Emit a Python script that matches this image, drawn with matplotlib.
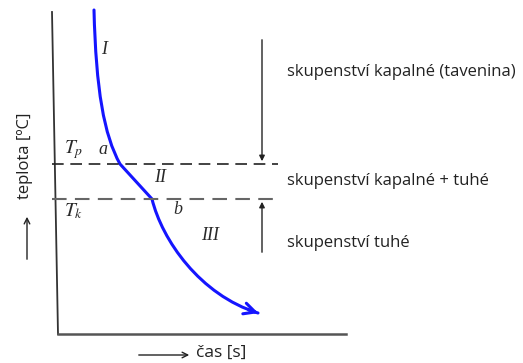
import matplotlib.pyplot as plt
from matplotlib.path import Path
from matplotlib.patches import PathPatch

plt.rcParams['mathtext.fontset'] = 'stix'

# cooling curve of a melt (schematic), drawn as Bezier pieces
# I: liquid cooling, II: crystallisation Tp -> Tk, III: solid cooling
cas_I = [94, 96, 104, 120]
teplota_I = [10, 90, 135, 164]
cas_II = [120, 152]
teplota_II = [164, 199]
cas_III = [152, 162, 200, 258]
teplota_III = [199, 240, 295, 313]

Tp = 164
Tk = 199

labels_skup = ["skupenství kapalné (tavenina)", "skupenství kapalné + tuhé", "skupenství tuhé"]
labels_y = [72, 181, 243]

fig = plt.figure(figsize=(5.23, 3.63), dpi=100)
ax = fig.add_axes([0, 0, 1, 1])
ax.set_xlim(0, 523)
ax.set_ylim(363, 0)
ax.axis('off')

# axes drawn by hand
ax.plot([52, 58], [12, 334], color='#333333', lw=1.3)
ax.plot([58, 346], [334, 334], color='#555555', lw=1.8)

# Tp and Tk levels
ax.plot([52, 278], [Tp, Tp], color='#222222', lw=1.2, dashes=(7, 4))
ax.plot([52, 278], [Tk, Tk], color='#666666', lw=1.5, dashes=(7, 4))

# curve
blue = '#1515ff'
verts = list(zip(cas_I, teplota_I)) + [(cas_II[1], teplota_II[1])] + list(zip(cas_III[1:], teplota_III[1:]))
codes = [Path.MOVETO, Path.CURVE4, Path.CURVE4, Path.CURVE4, Path.LINETO,
         Path.CURVE4, Path.CURVE4, Path.CURVE4]
ax.add_patch(PathPatch(Path(verts, codes), fill=False, edgecolor=blue, lw=2.2,
                       capstyle='round', joinstyle='round'))
ax.annotate('', xy=(cas_III[-1] + 3, teplota_III[-1] + 1), xytext=(cas_III[-1] - 12, teplota_III[-1] - 4),
            arrowprops=dict(arrowstyle='->', color=blue, lw=2.2, mutation_scale=20))

# region arrows
ax.annotate('', xy=(262, Tp), xytext=(262, 37),
            arrowprops=dict(arrowstyle='-|>', color='#222222', lw=1.0, mutation_scale=8))
ax.annotate('', xy=(262, Tk), xytext=(262, 255),
            arrowprops=dict(arrowstyle='-|>', color='#222222', lw=1.0, mutation_scale=8))

for txt, y in zip(labels_skup, labels_y):
    ax.text(287, y, txt, fontsize=12, family='Open Sans', color='#222222', va='center', ha='left')

serif = dict(family='Liberation Serif', style='italic', fontsize=13, color='#2a2a2a')
ax.text(101, 50, 'I', va='center', **serif)
ax.text(98, 150, 'a', va='center', **serif)
ax.text(64, 150, r'$T_p$', va='center', fontsize=14, color='#2a2a2a')
ax.text(64, 211, r'$T_k$', va='center', fontsize=14, color='#2a2a2a')
ax.text(154, 178, 'II', va='center', **serif)
ax.text(173, 210, 'b', va='center', **serif)
ax.text(201, 236, 'III', va='center', **serif)

# axis titles with arrows
ax.text(25, 156, 'teplota [ºC]', rotation=90, fontsize=12, family='Open Sans',
        color='#222222', ha='center', va='center')
ax.annotate('', xy=(27, 214), xytext=(27, 262),
            arrowprops=dict(arrowstyle='->', color='#222222', lw=1.0, mutation_scale=10))
ax.annotate('', xy=(192, 355), xytext=(136, 355),
            arrowprops=dict(arrowstyle='->', color='#222222', lw=1.0, mutation_scale=10))
ax.text(196, 353, 'čas [s]', fontsize=12.5, family='Open Sans', color='#222222', va='center')

fig.savefig('out.png', dpi=100)
